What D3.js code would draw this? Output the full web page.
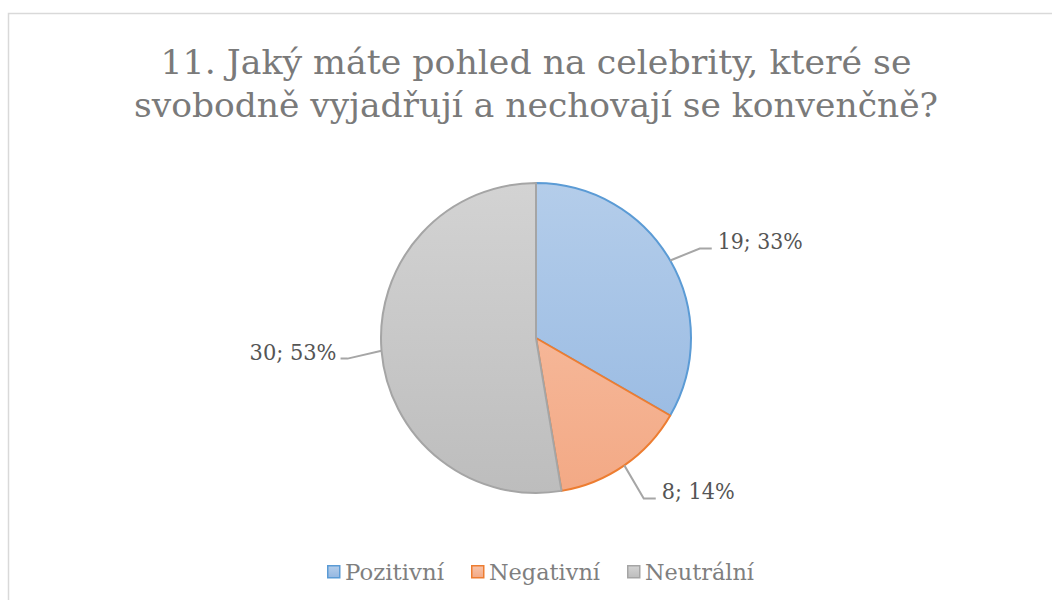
<!DOCTYPE html>
<html>
<head>
<meta charset="utf-8">
<script src="https://cdn.jsdelivr.net/npm/d3@7"></script>
<style>
  body { margin: 0; background: #fff; }
  svg { display: block; }
</style>
</head>
<body>
<svg id="chart" width="1052" height="600"></svg>
<script>
// chart data
let categories = ["Pozitivní", "Negativní", "Neutrální"];
let counts = [19, 8, 30];
let percents = ["33%", "14%", "53%"];
let titleLines = ["11. Jaký máte pohled na celebrity, které se", "svobodně vyjadřují a nechovají se konvenčně?"];

let fillTop = ["#b4cdea", "#f8c4aa", "#d3d3d3"];
let fillBottom = ["#94b7e1", "#f3a985", "#bdbdbd"];
let strokes = ["#5b9bd5", "#ed7d31", "#a5a5a5"];

let serif = "'DejaVu Serif', 'Liberation Serif', serif";

let svg = d3.select('#chart');
let width = 1052, height = 600;

// outer frame
svg.append('rect').attr('x', 8.5).attr('y', 13.5).attr('width', width).attr('height', height)
    .attr('fill', '#fff').attr('stroke', '#d9d9d9').attr('stroke-width', 1.5);

// gradients (vertical, spanning the whole pie)
let cx = 536, cy = 338, r = 155;
let defs = svg.append('defs');
categories.forEach(function(c, i){
    let g = defs.append('linearGradient').attr('id', 'grad' + i)
        .attr('gradientUnits', 'userSpaceOnUse')
        .attr('x1', 0).attr('y1', -r).attr('x2', 0).attr('y2', r);
    g.append('stop').attr('offset', '0%').attr('stop-color', fillTop[i]);
    g.append('stop').attr('offset', '100%').attr('stop-color', fillBottom[i]);
    let lg = defs.append('linearGradient').attr('id', 'lg' + i)
        .attr('x1', 0).attr('y1', 0).attr('x2', 0).attr('y2', 1);
    lg.append('stop').attr('offset', '0%').attr('stop-color', fillTop[i]);
    lg.append('stop').attr('offset', '100%').attr('stop-color', fillBottom[i]);
});

// title
let titleWidths = [751, 804];
svg.selectAll('.title').data(titleLines).enter().append('text')
    .attr('class', 'title')
    .attr('x', 536).attr('y', function(d, i){ return 74 + i * 43; })
    .attr('text-anchor', 'middle')
    .attr('font-family', serif)
    .attr('font-size', 34)
    .attr('fill', '#7a7a7a')
    .attr('textLength', function(d, i){ return titleWidths[i]; })
    .attr('lengthAdjust', 'spacingAndGlyphs')
    .text(function(d){ return d; });

// pie
let pie = d3.pie().sort(null).value(function(d){ return d; });
let arcs = pie(counts);
let arc = d3.arc().innerRadius(0).outerRadius(r);

let g = svg.append('g').attr('transform', 'translate(' + cx + ',' + cy + ')');

g.selectAll('.slice').data(arcs).enter().append('path')
    .attr('class', 'slice')
    .attr('d', arc)
    .attr('fill', function(d, i){ return 'url(#grad' + i + ')'; })
    .attr('stroke', function(d, i){ return strokes[i]; })
    .attr('stroke-width', 2)
    .attr('stroke-linejoin', 'round');

// leader lines and labels
let labelWidths = [85, 73, 87];
arcs.forEach(function(d, i){
    let mid = (d.startAngle + d.endAngle) / 2;
    let sx = Math.sin(mid), sy = -Math.cos(mid);
    let side = sx >= 0 ? 1 : -1;
    let p0 = [sx * r, sy * r];
    let p1 = [sx * r * 1.22, sy * r * 1.22 + 5];
    let p2 = [p1[0] + side * (side > 0 ? 12 : 7), p1[1]];
    g.append('polyline')
        .attr('points', [p0, p1, p2].map(function(p){ return p.join(','); }).join(' '))
        .attr('fill', 'none').attr('stroke', '#a6a6a6').attr('stroke-width', 2);
    g.append('text')
        .attr('x', p2[0] + side * (side > 0 ? 6 : 4))
        .attr('y', p2[1] + 1)
        .attr('text-anchor', side > 0 ? 'start' : 'end')
        .attr('font-family', serif)
        .attr('font-size', 22)
        .attr('fill', '#555')
        .attr('textLength', labelWidths[i])
        .attr('lengthAdjust', 'spacingAndGlyphs')
        .text(counts[i] + '; ' + percents[i]);
});

// legend
let legendX = [327, 471, 627];
let legendWidths = [99, 111, 109];
let legend = svg.selectAll('.legend').data(categories).enter().append('g')
    .attr('class', 'legend')
    .attr('transform', function(d, i){ return 'translate(' + legendX[i] + ',565)'; });
legend.append('rect').attr('x', 0.75).attr('y', 0.75).attr('width', 12).attr('height', 12)
    .attr('fill', function(d, i){ return 'url(#lg' + i + ')'; })
    .attr('stroke', function(d, i){ return strokes[i]; }).attr('stroke-width', 1.5);
legend.append('text').attr('x', 18).attr('y', 15)
    .attr('font-family', serif)
    .attr('font-size', 23).attr('fill', '#7f7f7f')
    .attr('textLength', function(d, i){ return legendWidths[i]; })
    .attr('lengthAdjust', 'spacingAndGlyphs')
    .text(function(d){ return d; });
</script>
</body>
</html>
